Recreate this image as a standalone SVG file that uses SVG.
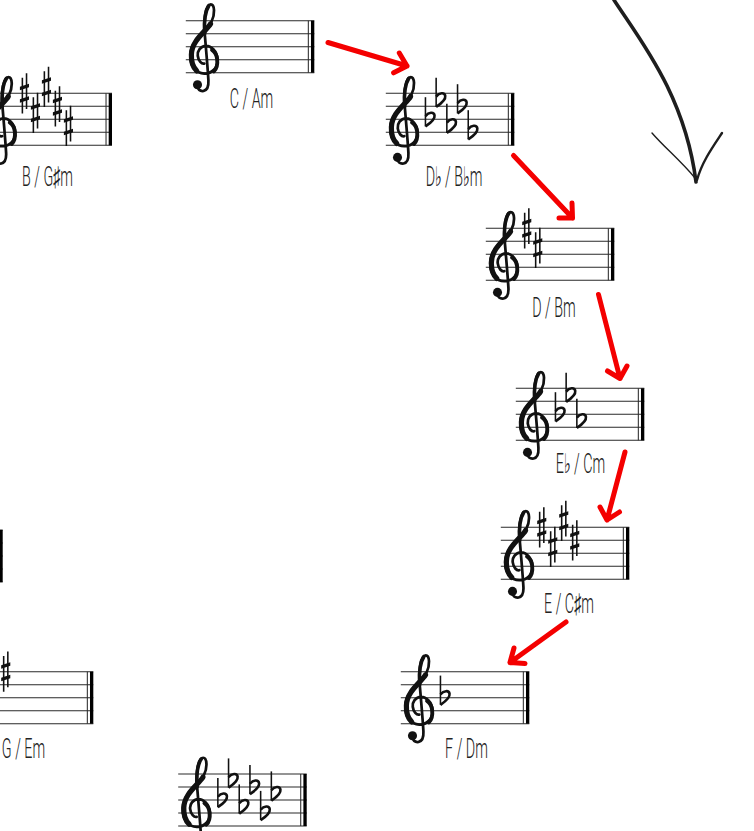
<svg xmlns="http://www.w3.org/2000/svg" width="754" height="831" viewBox="0 0 754 831">
<style>
.ln{stroke:#2a2a2a;stroke-width:0.85;fill:none}
.clef{fill:none;stroke:#111;stroke-linecap:round;stroke-linejoin:round}
.acc{stroke:#111;fill:none}
.lbl{font-family:Roboto,"Liberation Sans","DejaVu Sans",sans-serif;font-size:27px;font-weight:300;fill:#222;text-anchor:middle}
.red{fill:none;stroke:#f40000;stroke-width:5;stroke-linecap:round;stroke-linejoin:round}
.sketch{fill:none;stroke:#1e1e1e;stroke-linecap:round}
</style>
<defs>
<g id="staff">
<path class="ln" d="M0,0H98.85M0,10H98.85M0,20H98.85M0,30H98.85M0,40H98.85"/>
<rect x="93.85" y="0" width="0.8" height="40" fill="#2a2a2a"/>
<rect x="96.3" y="0" width="2.55" height="40" fill="#000"/>
</g>
<g id="clef">
<path class="clef" stroke-width="2.1" d="M5.5,49.5 C5.5,53 8,54.5 10.5,54 C13.5,53.3 14.4,50 14.2,46 C13.8,38 12.2,20 11.2,8 C10.5,-1 12,-12.5 16,-12.5 C19,-12.5 19.5,-5 16.5,1 C13,7 0.8,15 0.3,26 C-0.2,35 5,40.7 11,40.7 C17.2,40.7 21.7,36 21.2,29.5 C20.7,23 16,19.3 12.5,19.3 C8,19.3 5.5,23.5 6,27 C6.5,31 9,33.5 11,33"/>
<path class="clef" stroke-width="4" d="M15.8,2.5 C12.5,8 1.4,15 1.1,26 C0.9,31 2.5,36 5.2,38.6"/>
<path class="clef" stroke-width="3" d="M18.4,39 C20.5,37 21.3,33 20.9,29.5 C20.6,26.5 19,24 17,22.5"/>
<path class="clef" stroke-width="2.8" d="M11.3,10 C10.8,2 11.5,-7 14.5,-11.5"/>
<circle cx="5.8" cy="49.3" r="3.5" fill="#111"/>
</g>
<g id="flat">
<path class="acc" stroke-width="1.2" d="M0,-17V5.5"/>
<path class="acc" stroke-width="2" d="M0,5.5C3,3.5 7.5,0 7,-3C6.5,-6 2.5,-5.5 0,-2.5"/>
</g>
<g id="sharp">
<path class="acc" stroke-width="1.2" d="M-1.6,-12V15.5M1.6,-15.5V12"/>
<path fill="#111" d="M-3.5,-2.3L3.5,-4.6V-7.3L-3.5,-5ZM-3.5,7.3L3.5,5V2.3L-3.5,4.6Z"/>
</g>
</defs>

<g id="key-C">
<g transform="translate(185.8,20.7) scale(1.3)">
<use href="#staff"/><use href="#clef" x="3.2"/>
</g>
<text class="lbl" transform="translate(251.5,108) scale(0.53,1)">C / Am</text>
</g>

<g id="key-Db">
<g transform="translate(385.8,93.3) scale(1.3)">
<use href="#staff"/><use href="#clef" x="3.2"/>
<use href="#flat" x="30.5" y="20"/><use href="#flat" x="38.73" y="5"/><use href="#flat" x="46.96" y="25"/><use href="#flat" x="55.19" y="10"/><use href="#flat" x="63.42" y="30"/>
</g>
<text class="lbl" transform="translate(454,186) scale(0.53,1)">D♭ / B♭m</text>
</g>

<g id="key-D">
<g transform="translate(485.8,228.3) scale(1.3)">
<use href="#staff"/><use href="#clef" x="3.2"/>
<use href="#sharp" x="31.5" y="0"/><use href="#sharp" x="39.96" y="15"/>
</g>
<text class="lbl" transform="translate(554,317) scale(0.53,1)">D / Bm</text>
</g>

<g id="key-Eb">
<g transform="translate(515.8,388.3) scale(1.3)">
<use href="#staff"/><use href="#clef" x="3.2"/>
<use href="#flat" x="30.5" y="20"/><use href="#flat" x="38.73" y="5"/><use href="#flat" x="46.96" y="25"/>
</g>
<text class="lbl" transform="translate(580.5,473) scale(0.53,1)">E♭ / Cm</text>
</g>

<g id="key-E">
<g transform="translate(500.8,527.3) scale(1.3)">
<use href="#staff"/><use href="#clef" x="3.2"/>
<use href="#sharp" x="31.5" y="0"/><use href="#sharp" x="39.96" y="15"/><use href="#sharp" x="48.42" y="-5"/><use href="#sharp" x="56.88" y="10"/>
</g>
<text class="lbl" transform="translate(569,613) scale(0.53,1)">E / C♯m</text>
</g>

<g id="key-F">
<g transform="translate(400.8,671.7) scale(1.3)">
<use href="#staff"/><use href="#clef" x="3.2"/>
<use href="#flat" x="30.5" y="20"/>
</g>
<text class="lbl" transform="translate(466.5,758) scale(0.53,1)">F / Dm</text>
</g>

<g id="key-Gb">
<g transform="translate(178.2,774) scale(1.3)">
<use href="#staff"/><use href="#clef" x="3.2"/>
<use href="#flat" x="30.5" y="20"/><use href="#flat" x="38.73" y="5"/><use href="#flat" x="46.96" y="25"/><use href="#flat" x="55.19" y="10"/><use href="#flat" x="63.42" y="30"/><use href="#flat" x="71.65" y="15"/>
</g>
</g>

<g id="key-G">
<g transform="translate(-35.2,671.7) scale(1.3)">
<use href="#staff"/><use href="#clef" x="3.2"/>
<use href="#sharp" x="31.5" y="0"/>
</g>
<text class="lbl" transform="translate(23.5,758) scale(0.53,1)">G / Em</text>
</g>

<g id="key-Ab">
<g transform="translate(-125.8,530) scale(1.3)">
<use href="#staff"/>
</g>
</g>

<g id="key-B">
<g transform="translate(-16.5,93.3) scale(1.3)">
<use href="#staff"/><use href="#clef" x="3.2"/>
<use href="#sharp" x="31.5" y="0"/><use href="#sharp" x="39.96" y="15"/><use href="#sharp" x="48.42" y="-5"/><use href="#sharp" x="56.88" y="10"/><use href="#sharp" x="65.34" y="25"/>
</g>
<text class="lbl" transform="translate(47.5,186) scale(0.53,1)">B / G♯m</text>
</g>

<g id="connectors">
<path class="red" d="M328,42.5L407,66M399.3,53L407,66L393.6,72.8"/>
<path class="red" d="M513.5,155.5L572.5,218M572,203L572.5,218L559,218"/>
<path class="red" d="M598.5,294.5L620,378.5M627,366L620,378.5L607.5,371"/>
<path class="red" d="M625,452L607,520M619.5,512L607,520L600,507"/>
<path class="red" d="M566,622L510,662.5M525,663.5L510,662.5L514,648"/>
<path class="sketch" stroke-width="3.6" d="M614,0C640,40 685,95 696,182"/>
<path class="sketch" stroke-width="1.4" d="M652,133C665,148 680,160 695,178"/>
<path class="sketch" stroke-width="2.4" d="M722,133C712,148 702,162 697,180"/>
</g>
</svg>
